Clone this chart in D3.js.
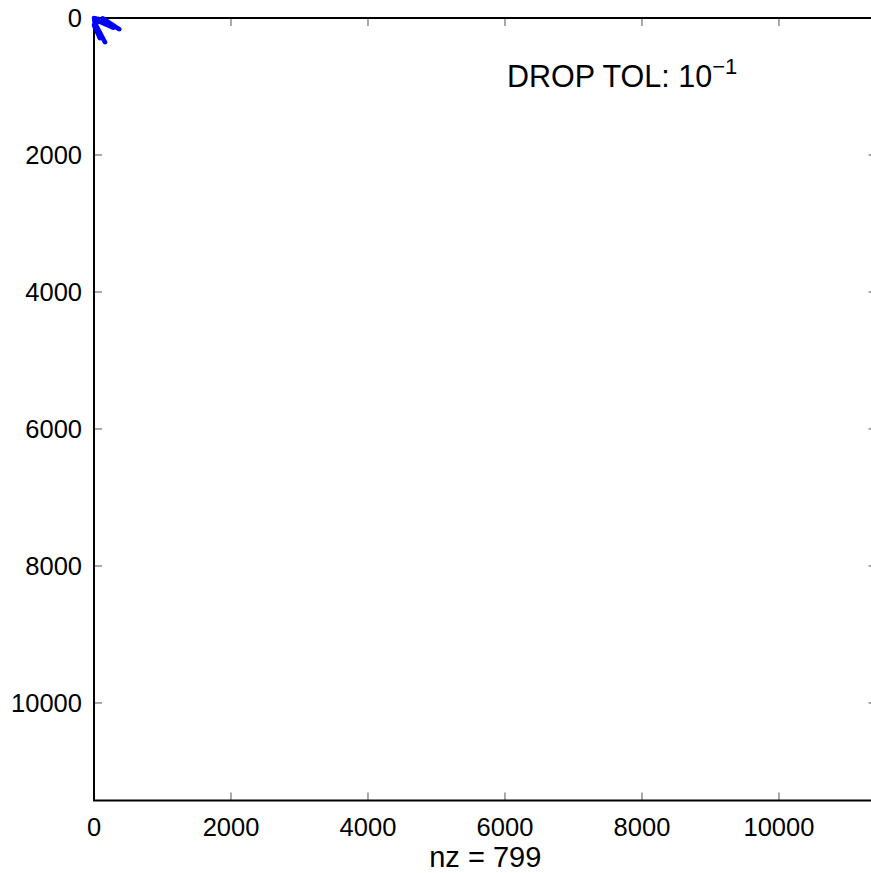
<!DOCTYPE html>
<html><head><meta charset="utf-8">
<script src="https://cdn.jsdelivr.net/npm/d3@7"></script>
<style>body{margin:0;background:#fff}svg{display:block}text{font-family:"Liberation Sans",Arial,sans-serif}</style>
</head><body><svg id="c" width="871" height="873"></svg>
<script>
const matrixSize = 11424;
const tickValues = [0, 2000, 4000, 6000, 8000, 10000];
const xLabel = "nz = 799";
const annotation = "DROP TOL: 10";
const annotationExp = "\u22121";
// nonzero positions (row, col)
const blobRows = [0, 10, 20, 5, 30, 15, 40, 25, 50, 60, 45, 70, 35, 12];
const blobCols = [0, 5, 10, 20, 15, 35, 25, 50, 30, 10, 60, 40, 5, 60];
const strokeARows = [5, 18, 31, 44, 57, 70, 83, 96, 110, 124, 138, 151, 165];
const strokeACols = [127, 147, 166, 186, 206, 226, 246, 266, 287, 308, 329, 348, 369];
const strokeBRows = [29, 38, 48, 57, 67, 76, 86, 95, 104, 114, 123, 133, 142];
const strokeBCols = [29, 50, 71, 92, 113, 134, 156, 177, 198, 219, 240, 261, 282];
const strokeCRows = [77, 100, 123, 146, 170, 193, 216, 239, 262, 286, 309, 332, 355];
const strokeCCols = [15, 27, 39, 52, 64, 76, 88, 100, 112, 125, 137, 149, 161];
const strokeDRows = [102, 118, 134, 150, 167, 183, 199, 215, 231, 248, 264, 280, 296];
const strokeDCols = [0, 7, 15, 22, 29, 37, 44, 51, 59, 66, 73, 81, 88];

(function () {
const pts = [];
[[blobRows, blobCols], [strokeARows, strokeACols], [strokeBRows, strokeBCols],
 [strokeCRows, strokeCCols], [strokeDRows, strokeDCols]].forEach(([r, c]) => {
  r.forEach((v, i) => pts.push({row: v, col: c[i]}));
});

const svg = d3.select("#c");
const mLeft = 94, mTop = 18, size = 782.5;
const x = d3.scaleLinear().domain([0, matrixSize]).range([mLeft, mLeft + size]);
const y = d3.scaleLinear().domain([0, matrixSize]).range([mTop, mTop + size]);

// ticks (inward on all four sides)
const tl = 8;
const tg = svg.append("g").attr("stroke", "#555").attr("stroke-width", 1);
tickValues.forEach(v => {
  if (v === 0) return;
  tg.append("line").attr("x1", x(v)).attr("x2", x(v)).attr("y1", mTop).attr("y2", mTop + tl);
  tg.append("line").attr("x1", x(v)).attr("x2", x(v)).attr("y1", mTop + size).attr("y2", mTop + size - tl);
  tg.append("line").attr("y1", y(v)).attr("y2", y(v)).attr("x1", mLeft).attr("x2", mLeft + tl);
  tg.append("line").attr("y1", y(v)).attr("y2", y(v)).attr("x1", mLeft + size).attr("x2", mLeft + size - tl);
});

// box
svg.append("rect").attr("x", mLeft).attr("y", mTop).attr("width", size).attr("height", size)
  .attr("fill", "none").attr("stroke", "#000").attr("stroke-width", 2);

// tick labels
const fs = 25.5;
tickValues.forEach(v => {
  svg.append("text").attr("x", x(v)).attr("y", 836)
    .attr("text-anchor", "middle").attr("font-size", fs).text(v);
  svg.append("text").attr("x", mLeft - 12).attr("y", y(v)).attr("dy", "0.36em")
    .attr("text-anchor", "end").attr("font-size", fs).text(v);
});

svg.append("text").attr("x", x(matrixSize / 2)).attr("y", 867)
  .attr("text-anchor", "middle").attr("font-size", 29).text(xLabel);

// points
svg.append("g").selectAll("circle").data(pts).join("circle")
  .attr("cx", d => x(d.col)).attr("cy", d => y(d.row)).attr("r", 2.3).attr("fill", "#0000ff");

const ann = svg.append("text").attr("x", 507).attr("y", 87).attr("font-size", 30.5);
ann.append("tspan").text(annotation);
ann.append("tspan").attr("dy", -13).attr("font-size", 22).text(annotationExp);
})();
</script></body></html>
